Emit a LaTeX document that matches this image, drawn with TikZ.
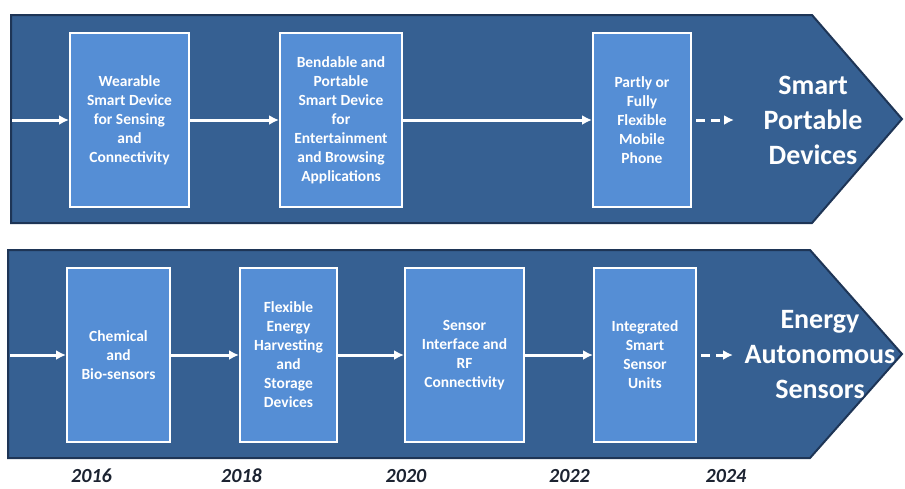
\documentclass[tikz,border=0pt]{standalone}
\usepackage{fontspec}
\setmainfont{Carlito}
\usetikzlibrary{arrows.meta}

\definecolor{bandblue}{HTML}{366092}
\definecolor{bandedge}{HTML}{1E3556}
\definecolor{boxblue}{HTML}{558ED5}
\definecolor{yearink}{HTML}{1C2331}

\tikzset{
  band/.style={fill=bandblue, draw=bandedge, line width=2pt, line join=miter},
  stagebox/.style={draw=white, line width=2pt, fill=boxblue, text=white,
    font=\fontsize{15.5}{19}\selectfont\bfseries, align=center,
    minimum height=174pt, inner sep=2pt},
  flow/.style={white, line width=3pt, -{Latex[length=10pt,width=10pt]}},
  soon/.style={flow, dash pattern=on 9pt off 6pt, shorten <=4pt},
  goal/.style={text=white, font=\fontsize{28}{35}\selectfont\bfseries, align=center},
  year/.style={text=yearink, font=\fontsize{20}{23}\selectfont\bfseries\itshape}
}

\begin{document}
\begin{tikzpicture}[x=1pt, y=-1pt]
  \useasboundingbox (0,0) rectangle (905,488);

  % bands
  \draw[band] (11,15) -- (812,15) -- (902,119) -- (812,223) -- (11,223) -- cycle;
  \draw[band] (8,250) -- (810,250) -- (902,354) -- (810,458) -- (8,458) -- cycle;

  % top row
  \node[stagebox, minimum width=119pt] (wear) at (129.5,120)
    {Wearable\\Smart Device\\for Sensing\\and\\Connectivity};
  \node[stagebox, minimum width=122pt] (bend) at (341,120)
    {Bendable and\\Portable\\Smart Device\\for\\Entertainment\\and Browsing\\Applications};
  \node[stagebox, minimum width=98pt] (phone) at (642,120)
    {Partly or\\Fully\\Flexible\\Mobile\\Phone};
  \node[goal] (smart) at (813,120) {Smart\\Portable\\Devices};

  \coordinate (topin) at (12,120);
  \coordinate (topgoal) at (734,120);
  \draw[flow] (topin) -- (wear);
  \draw[flow] (wear) -- (bend);
  \draw[flow] (bend) -- (phone);
  \draw[soon] (phone) -- (topgoal);

  % bottom row
  \node[stagebox, minimum width=103pt] (chem) at (118.5,355)
    {Chemical\\and\\Bio-sensors};
  \node[stagebox, minimum width=97pt] (harv) at (288.5,355)
    {Flexible\\Energy\\Harvesting\\and\\Storage\\Devices};
  \node[stagebox, minimum width=119pt] (rf) at (464.5,355)
    {Sensor\\Interface and\\RF\\Connectivity};
  \node[stagebox, minimum width=102pt] (unit) at (645,355)
    {Integrated\\Smart\\Sensor\\Units};
  \node[goal] (energy) at (820,355) {Energy\\Autonomous\\Sensors};

  \coordinate (botin) at (10,355);
  \coordinate (botgoal) at (733,355);
  \draw[flow] (botin) -- (chem);
  \draw[flow] (chem) -- (harv);
  \draw[flow] (harv) -- (rf);
  \draw[flow] (rf) -- (unit);
  \draw[soon] (unit) -- (botgoal);

  % years
  \node[year] (y2016) at (91.5,476) {2016};
  \node[year] (y2018) at (241.5,476) {2018};
  \node[year] (y2020) at (406,476) {2020};
  \node[year] (y2022) at (569.5,476) {2022};
  \node[year] (y2024) at (726,476) {2024};
\end{tikzpicture}
\end{document}
